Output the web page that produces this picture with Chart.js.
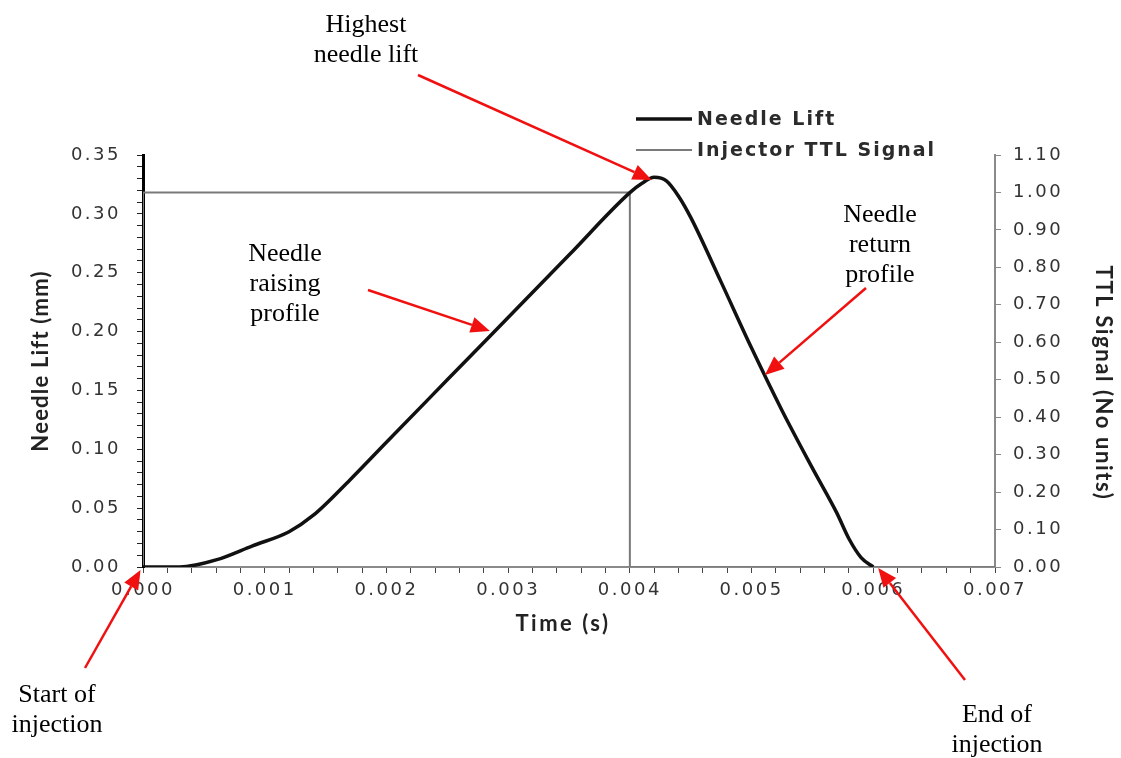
<!DOCTYPE html>
<html lang="en">
<head>
<meta charset="UTF-8">
<title>Needle lift and injector TTL signal</title>
<script src="https://cdn.jsdelivr.net/npm/chart.js"></script>
<style>
  html, body { margin: 0; padding: 0; background: #fff; }
  #wrap { width: 1121px; height: 758px; position: relative; }
</style>
</head>
<body>
<div id="wrap"><canvas id="liftChart"></canvas></div>

<script>
  // data (time in seconds)
  const needleTime = [0, 0.0003, 0.0006, 0.0009, 0.0012, 0.0014, 0.0017, 0.002, 0.0025, 0.003, 0.0035,
                      0.004, 0.0041, 0.0042, 0.0043, 0.0044, 0.0045, 0.00475, 0.005, 0.00525, 0.0055,
                      0.0057, 0.0058, 0.0059, 0.006];
  const needleLift = [0, 0, 0.006, 0.018, 0.03, 0.044, 0.074, 0.106, 0.159, 0.212, 0.265,
                      0.318, 0.326, 0.331, 0.328, 0.315, 0.297, 0.242, 0.186, 0.133, 0.084,
                      0.046, 0.024, 0.008, 0];

  const ttlTime = [0, 0, 0.004, 0.004, 0.007];
  const ttlSignal = [0, 1, 1, 0, 0];

  const seriesNames = ['Needle Lift', 'Injector TTL Signal'];
  const axisTitles = { x: 'Time (s)', y: 'Needle Lift (mm)', y1: 'TTL Signal (No units)' };

  // annotations: arrow tip in data units, tail + text baselines in page pixels
  const notes = [
    { lines: ['Highest', 'needle lift'], textX: 366, baseY: 32, tip: [0.00418, 0.3288], tail: [418, 75] },
    { lines: ['Needle', 'raising', 'profile'], textX: 285, baseY: 261, tip: [0.00285, 0.2005], tail: [368, 290] },
    { lines: ['Needle', 'return', 'profile'], textX: 880, baseY: 222, tip: [0.00511, 0.1631], tail: [866, 288] },
    { lines: ['Start of', 'injection'], textX: 57, baseY: 702, tip: [-0.00002, -0.0025], tail: [85, 668] },
    { lines: ['End of', 'injection'], textX: 997, baseY: 722, tip: [0.00604, -0.0008], tail: [965, 680] }
  ];

  const toXY = (xs, ys) => xs.map((x, i) => ({ x: x, y: ys[i] }));

  function isMultiple(v, step) {
    const r = v / step;
    return Math.abs(r - Math.round(r)) < 1e-6;
  }

  function arrow(ctx, sx, sy, tx, ty) {
    const ang = Math.atan2(ty - sy, tx - sx);
    const headLen = 19, headW = 8;
    const bx = tx - headLen * Math.cos(ang), by = ty - headLen * Math.sin(ang);
    ctx.beginPath();
    ctx.moveTo(sx, sy);
    ctx.lineTo(bx, by);
    ctx.stroke();
    ctx.beginPath();
    ctx.moveTo(tx, ty);
    ctx.lineTo(bx + headW * Math.sin(ang), by - headW * Math.cos(ang));
    ctx.lineTo(bx - headW * Math.sin(ang), by + headW * Math.cos(ang));
    ctx.closePath();
    ctx.fill();
  }

  function title(ctx, text, x, y, rot, spacing) {
    ctx.save();
    ctx.letterSpacing = spacing;
    ctx.translate(x, y);
    ctx.rotate(rot);
    ctx.fillText(text, 0, 0);
    ctx.restore();
  }

  const extras = {
    id: 'extras',
    beforeDraw(chart) {
      const ctx = chart.ctx;
      ctx.save();
      ctx.fillStyle = '#fff';
      ctx.fillRect(0, 0, chart.width, chart.height);
      ctx.restore();
      // tick labels in the picture are wide
      ctx.letterSpacing = '2.5px';
    },
    afterDraw(chart) {
      const ctx = chart.ctx;
      const xs = chart.scales.x, ys = chart.scales.y;
      const area = chart.chartArea;
      ctx.letterSpacing = '0px';

      // axis titles
      ctx.save();
      ctx.font = 'bold 22px Lato';
      ctx.fillStyle = '#222';
      ctx.textAlign = 'center';
      ctx.textBaseline = 'middle';
      title(ctx, axisTitles.x, 563, 624, 0, '2.5px');
      title(ctx, axisTitles.y, 41, (area.top + area.bottom) / 2, -Math.PI / 2, '1.2px');
      title(ctx, axisTitles.y1, 1103, 383, Math.PI / 2, '1.6px');
      ctx.restore();

      // legend
      ctx.save();
      ctx.letterSpacing = '2px';
      ctx.font = 'bold 19px "DejaVu Sans"';
      ctx.textBaseline = 'middle';
      ctx.fillStyle = '#2b2b2b';
      const legendY = [119, 150];
      chart.data.datasets.forEach((ds, i) => {
        ctx.strokeStyle = ds.borderColor;
        ctx.lineWidth = ds.borderWidth;
        ctx.beginPath();
        ctx.moveTo(636, legendY[i]);
        ctx.lineTo(692, legendY[i]);
        ctx.stroke();
        ctx.fillText(ds.label, 697, legendY[i] + 1);
      });
      ctx.restore();

      // arrows and notes
      ctx.save();
      ctx.font = '26px "Liberation Serif"';
      ctx.textAlign = 'center';
      ctx.textBaseline = 'alphabetic';
      notes.forEach(n => {
        ctx.fillStyle = '#000';
        n.lines.forEach((t, k) => ctx.fillText(t, n.textX, n.baseY + k * 30));
        ctx.strokeStyle = '#f01010';
        ctx.fillStyle = '#f01010';
        ctx.lineWidth = 2.5;
        arrow(ctx, n.tail[0], n.tail[1], xs.getPixelForValue(n.tip[0]), ys.getPixelForValue(n.tip[1]));
      });
      ctx.restore();
    }
  };

  const tickFont = { family: 'DejaVu Sans', size: 18 };

  new Chart(document.getElementById('liftChart'), {
    type: 'scatter',
    data: {
      datasets: [
        {
          label: seriesNames[0],
          data: toXY(needleTime, needleLift),
          showLine: true,
          borderColor: '#111',
          borderWidth: 3.5,
          pointRadius: 0,
          cubicInterpolationMode: 'monotone',
          yAxisID: 'y'
        },
        {
          label: seriesNames[1],
          data: toXY(ttlTime, ttlSignal),
          showLine: true,
          borderColor: '#7a7a7a',
          borderWidth: 2,
          pointRadius: 0,
          tension: 0,
          yAxisID: 'y1'
        }
      ]
    },
    options: {
      responsive: true,
      maintainAspectRatio: false,
      animation: false,
      layout: { padding: { top: 155, left: 0, right: 0, bottom: 0 } },
      plugins: {
        legend: { display: false },
        tooltip: { enabled: false }
      },
      scales: {
        x: {
          type: 'linear',
          min: 0,
          max: 0.007,
          afterFit: s => { s.height = 191; },
          border: { color: '#8a8a8a', width: 2 },
          grid: { drawOnChartArea: false, tickLength: 6, color: '#444' },
          ticks: {
            stepSize: 0.0002,
            autoSkip: false,
            maxRotation: 0,
            padding: 7,
            color: '#333',
            font: tickFont,
            callback: v => isMultiple(v, 0.001) ? v.toFixed(3) : ''
          }
        },
        y: {
          position: 'left',
          min: 0,
          max: 0.35,
          afterFit: s => { s.width = 143; },
          border: { color: '#000', width: 3 },
          grid: { drawOnChartArea: false, tickLength: 6, color: '#222' },
          ticks: {
            stepSize: 0.01,
            autoSkip: false,
            padding: 16,
            color: '#333',
            font: tickFont,
            callback: v => isMultiple(v, 0.05) ? v.toFixed(2) : ''
          }
        },
        y1: {
          position: 'right',
          min: 0,
          max: 1.1,
          afterFit: s => { s.width = 126; },
          border: { color: '#8a8a8a', width: 2 },
          grid: { drawOnChartArea: false, tickLength: 6, color: '#8a8a8a' },
          ticks: {
            stepSize: 0.1,
            autoSkip: false,
            padding: 12,
            color: '#333',
            font: tickFont,
            callback: v => v.toFixed(2)
          }
        }
      }
    },
    plugins: [extras]
  });
</script>
</body>
</html>
